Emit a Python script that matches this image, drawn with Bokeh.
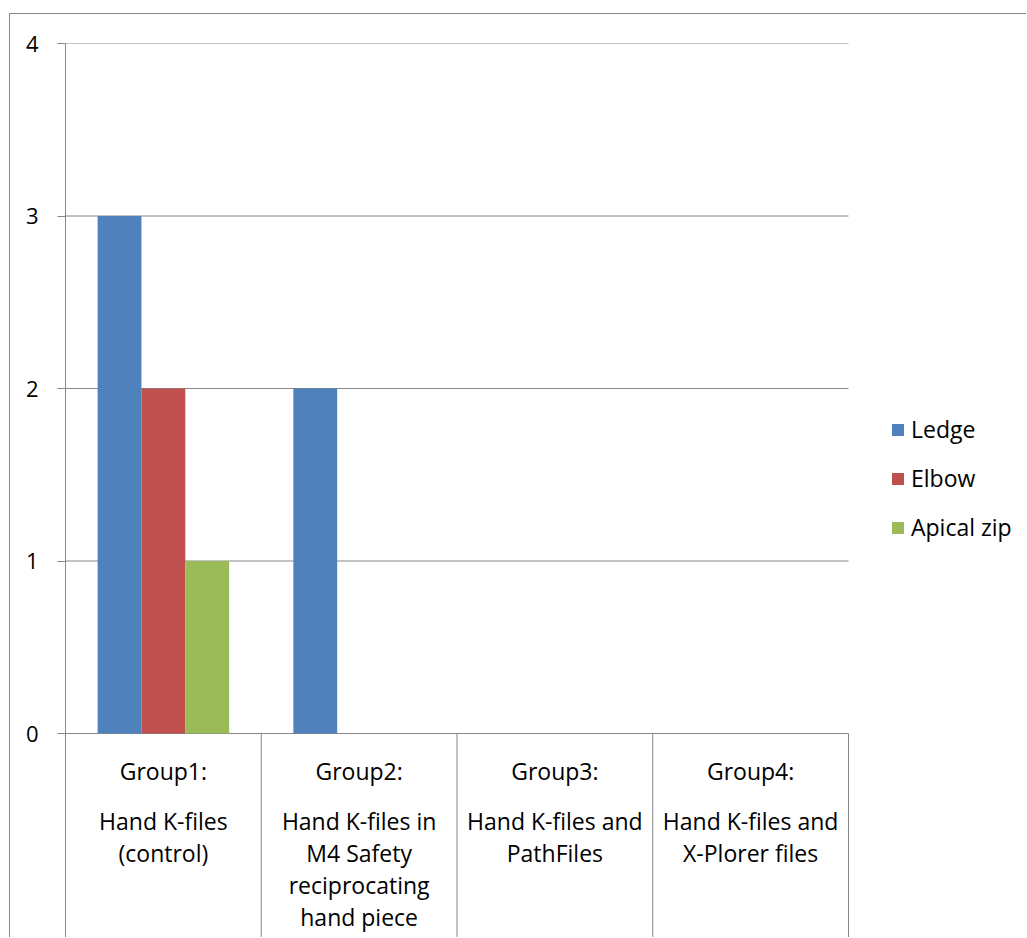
from bokeh.plotting import figure
from bokeh.models import Range1d, FixedTicker, Legend, LegendItem, ColumnDataSource
from bokeh.core.properties import value
from bokeh.embed import file_html
from bokeh.resources import INLINE

# ---- data ----
categories = ["Group1", "Group2", "Group3", "Group4"]
group_titles = ["Group1:", "Group2:", "Group3:", "Group4:"]
group_descriptions = [
    "Hand K-files\n(control)",
    "Hand K-files in\nM4 Safety\nreciprocating\nhand piece",
    "Hand K-files and\nPathFiles",
    "Hand K-files and\nX-Plorer files",
]
series_names = ["Ledge", "Elbow", "Apical zip"]
ledge = [3, 2, 0, 0]
elbow = [2, 0, 0, 0]
apical_zip = [1, 0, 0, 0]
series_colors = ["#4F81BD", "#C0504D", "#9BBB59"]
y_ticks = [0, 1, 2, 3, 4]

# ---- layout constants ----
FONT = "Open Sans"
GRID = "#868686"
PX_PER_UNIT = 172.5          # 4 units over 690 px
BOTTOM_PX = 205              # label area below the zero line
y_bottom = -BOTTOM_PX / PX_PER_UNIT
n_cat = len(categories)
CAT_PX = 783 / n_cat         # pixel width of one category slot
x_end = (1027 - 65) / CAT_PX  # frame extends under the legend area

centers = [i + 0.5 for i in range(n_cat)]

p = figure(
    x_range=Range1d(0, x_end),
    y_range=Range1d(y_bottom, 4),
    width=1017, height=924,
    output_backend="svg", toolbar_location=None,
    x_axis_location=None,
    min_border_left=55, min_border_top=29, min_border_right=0, min_border_bottom=0,
)
p.outline_line_color = None
p.margin = (13, 0, 0, 9)
p.styles = {"border-top": "1px solid #868686", "border-left": "1px solid #868686"}

p.xgrid.visible = False
p.ygrid.visible = False

ax = p.yaxis[0]
ax.ticker = FixedTicker(ticks=y_ticks)
ax.axis_line_color = GRID
ax.major_tick_line_color = GRID
ax.major_tick_out = 8
ax.major_tick_in = 0
ax.minor_tick_out = 0
ax.minor_tick_in = 0
ax.major_label_standoff = 19
ax.major_label_text_font = FONT
ax.major_label_text_font_size = "22px"
ax.major_label_text_color = "black"

# horizontal gridlines over the category area only
p.segment(x0=[0] * len(y_ticks), y0=y_ticks, x1=[n_cat] * len(y_ticks), y1=y_ticks,
          line_color=GRID, line_width=1)

bar_w = 0.224
offsets = [-bar_w, 0.0, bar_w]
renderers = []
for vals, off, color in zip([ledge, elbow, apical_zip], offsets, series_colors):
    src = ColumnDataSource(dict(x=[c + off for c in centers], top=vals))
    r = p.vbar(x="x", top="top", width=bar_w, bottom=0, source=src,
               fill_color=color, line_color=None)
    renderers.append(r)

# category separators below the zero line
sep_x = list(range(1, n_cat + 1))
p.segment(x0=sep_x, y0=[y_bottom] * len(sep_x), x1=sep_x, y1=[0] * len(sep_x),
          line_color=GRID, line_width=1)

# category labels
lx, ly, lt = [], [], []
for c, title, desc in zip(centers, group_titles, group_descriptions):
    lx.append(c); ly.append((733 - 770) / PX_PER_UNIT); lt.append(title)
    for k, line in enumerate(desc.split("\n")):
        lx.append(c); ly.append((733 - 820 - 32 * k) / PX_PER_UNIT); lt.append(line)
p.text(x=lx, y=ly, text=lt, text_align="center", text_baseline="middle",
       text_font=value(FONT), text_font_size="23px", text_color="black")

legend = Legend(
    items=[LegendItem(label=n, renderers=[r]) for n, r in zip(series_names, renderers)],
    location=(825, 395),
    glyph_width=15, glyph_height=15, label_standoff=6, spacing=17, label_height=20,
    padding=0, margin=0, border_line_color=None, background_fill_alpha=0,
    label_text_font=FONT, label_text_font_size="23px", label_text_color="black",
)
p.add_layout(legend)

open("out.html", "w").write(file_html(p, INLINE))
